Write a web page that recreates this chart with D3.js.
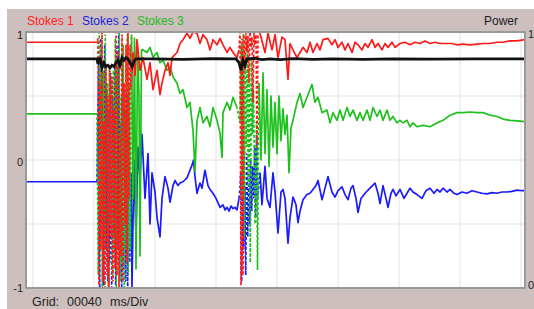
<!DOCTYPE html>
<html>
<head>
<meta charset="utf-8">
<title>Stokes</title>
<script src="https://cdn.jsdelivr.net/npm/d3@7/dist/d3.min.js"></script>
<style>
body { margin: 0; background: #fff; }
svg { display: block; font-family: "Liberation Sans", Arial, sans-serif; }
</style>
</head>
<body>
<script>
  // sample index -> ms (40 ms per grid division, 61 samples per division)
  var sampleMs = 40 / 61;
  var gridMs = 40;

  var legendNames = ["Stokes 1", "Stokes 2", "Stokes 3"];
  var leftTicks = [1, 0, -1];
  var rightTicks = [1, 0];

  // sample ranges where the traces break up into noise
  var bursts = [[64, 97.5], [206.5, 226]];

  // [sample, value]
  var stokes1 = [[-7,0.92],[64,0.92],
    [65,0.95],[66,-0.98],[67,0.6],[68,-0.7],[69,1.0],[70,-0.95],[71,0.3],[72,-1.0],[73,0.75],[74,-0.9],
    [75,0.5],[76,-1.0],[77,0.7],[78,-0.6],[79,0.65],[80,-0.95],[81,0.4],[82,-0.85],[83,1.0],[84,-0.9],
    [85,0.85],[86,-1.0],[87,0.2],[88,-0.75],[89,0.98],[90,-0.95],[91,0.6],[92,-0.5],[93,0.9],[94,-0.8],
    [95,1.0],[96,-0.3],
    [97,0.9],[98,0.55],[100,0.84],[102,0.66],[104,0.94],[107,0.7],[110,0.8],[114,0.63],[117,0.76],[120,0.55],
    [124,0.7],[127,0.51],[129,0.6],[132,0.7],[135,0.76],[137,0.66],[139,0.8],[144,0.84],[147,0.91],[150,0.94],
    [154,0.99],[157,0.95],[160,1.0],[164,0.99],[167,0.91],[170,0.98],[174,0.94],[177,0.86],[180,0.94],[184,0.9],
    [187,0.95],[190,0.9],[194,0.84],[197,0.88],[200,0.84],[204,0.8],[206,0.86],
    [207,1.0],[208,-0.98],[209,0.95],[210,-0.9],[211,0.98],[212,0.7],[213,0.99],[214,0.85],[215,0.97],[216,0.6],
    [217,1.0],[218,0.88],[219,0.96],[220,0.45],[221,1.0],[222,0.9],[223,0.98],[224,0.1],[225,0.97],
    [227,0.99],[232,0.84],[235,0.99],[239,0.86],[242,0.98],[245,0.8],[249,0.96],[252,0.94],[255,0.63],[257,0.91],
    [260,0.86],[264,0.8],[267,0.84],[270,0.88],[274,0.84],[277,0.92],[280,0.84],[284,0.91],[287,0.86],[290,0.94],
    [295,0.95],[299,0.9],[302,0.94],[305,0.88],[309,0.92],[312,0.86],[315,0.91],[319,0.84],[322,0.92],[325,0.9],
    [329,0.86],[332,0.91],[335,0.88],[339,0.94],[342,0.88],[345,0.91],[349,0.86],[352,0.91],[355,0.88],[359,0.92],
    [362,0.88],[367,0.91],[372,0.92],[377,0.9],[382,0.92],[387,0.91],[392,0.93],[397,0.91],[402,0.92],[407,0.91],
    [414,0.91],[419,0.91],[424,0.9],[430,0.905],[437,0.9],[444,0.905],[450,0.91],[457,0.91],[464,0.92],[470,0.92],
    [477,0.93],[484,0.93],[492,0.94]];

  var stokes2 = [[-7,-0.17],[64,-0.17],
    [65.7,0.8],[66.7,-1.0],[67.7,0.95],[68.7,-0.5],[69.7,0.6],[70.7,-0.98],[71.7,0.9],[72.7,-0.7],[73.7,0.55],
    [74.7,-0.95],[75.7,0.4],[76.7,-0.8],[77.7,0.68],[78.7,-1.0],[79.7,0.5],[80.7,-0.6],[81.7,0.75],[82.7,-0.98],
    [83.7,0.9],[84.7,-0.7],[85.7,1.0],[86.7,-0.9],[87.7,0.3],[88.7,-1.0],[89.7,0.8],[90.7,-0.85],[91.7,0.1],
    [92.7,-0.95],[93.7,0.5],[94.7,-0.99],[95.7,0.2],[96.7,-0.8],
    [98,-0.1],[99,-0.99],[101,0.0],[103,-0.6],[105,0.1],[107,-0.15],[109,0.2],[112,-0.3],[115,0.05],[117,-0.5],
    [119,-0.1],[122,-0.25],[124,-0.45],[127,-0.6],[129,-0.3],[132,-0.13],[135,-0.22],[137,-0.33],[140,-0.2],
    [142,-0.16],[145,-0.2],[147,-0.18],[150,-0.17],[154,-0.14],[157,-0.08],[159,-0.04],[160.5,0.0],[162,-0.13],
    [164,-0.26],[167,-0.18],[169,-0.22],[172,-0.08],[175,-0.2],[177,-0.23],[180,-0.26],[183,-0.3],[187,-0.37],
    [190,-0.35],[192,-0.39],[194,-0.37],[196,-0.4],[198,-0.36],[200,-0.38],[202,-0.37],[204,-0.39],[206,-0.3],
    [207,-0.22],[207.7,-0.1],[208.7,-0.95],[209.7,0.1],[210.7,-0.7],[211.7,-0.2],[212.7,-0.9],[213.7,0.05],
    [214.7,-0.6],[215.7,-0.1],[216.7,-0.5],[217.7,0.0],[218.7,-0.4],[219.7,-0.05],[220.7,-0.3],[221.7,0.1],
    [222.7,-0.45],[223.7,0.2],[224.7,-0.3],
    [227,-0.1],[229,-0.35],[232,-0.05],[234,-0.3],[237,-0.37],[240,-0.1],[242,-0.25],[245,-0.57],[248,-0.25],
    [250,-0.23],[252,-0.3],[255,-0.65],[257,-0.45],[260,-0.29],[263,-0.35],[265,-0.49],[267,-0.4],[270,-0.31],
    [274,-0.27],[277,-0.26],[280,-0.23],[283,-0.2],[285,-0.16],[289,-0.31],[292,-0.22],[295,-0.13],[299,-0.25],
    [302,-0.29],[305,-0.24],[309,-0.21],[312,-0.27],[315,-0.31],[318,-0.22],[320,-0.2],[323,-0.3],[325,-0.41],
    [328,-0.3],[332,-0.26],[337,-0.22],[342,-0.18],[345,-0.26],[347,-0.34],[350,-0.2],[353,-0.3],[355,-0.37],
    [358,-0.26],[360,-0.23],[363,-0.28],[367,-0.23],[371,-0.3],[374,-0.26],[377,-0.22],[380,-0.25],[384,-0.27],
    [389,-0.3],[393,-0.24],[397,-0.22],[401,-0.26],[404,-0.23],[407,-0.25],[410,-0.22],[414,-0.25],[417,-0.23],
    [421,-0.26],[424,-0.27],[429,-0.25],[434,-0.26],[439,-0.24],[444,-0.25],[449,-0.26],[454,-0.265],[459,-0.255],
    [464,-0.26],[469,-0.25],[474,-0.25],[479,-0.245],[484,-0.235],[489,-0.24],[492,-0.24]];

  var stokes3 = [[-7,0.36],[64,0.36],
    [65.3,-0.9],[66.3,1.0],[67.3,-0.4],[68.3,0.9],[69.3,-1.0],[70.3,0.7],[71.3,-0.6],[72.3,0.98],[73.3,-0.8],
    [74.3,0.6],[75.3,-1.0],[76.3,0.72],[77.3,-0.5],[78.3,0.55],[79.3,-0.9],[80.3,0.7],[81.3,-0.7],[82.3,0.95],
    [83.3,-1.0],[84.3,0.8],[85.3,-0.6],[86.3,1.0],[87.3,-0.95],[88.3,0.5],[89.3,-0.8],[90.3,0.9],[91.3,-1.0],
    [92.3,0.4],[93.3,-0.7],[94.3,0.98],[95.3,-0.9],[96.3,0.6],
    [97.3,-0.7],[98.5,0.98],[100,-0.3],[101.5,0.95],[103,-0.85],[104.5,0.88],[106,0.5],[107,-0.75],[108.5,0.86],
    [110,0.86],[114,0.84],[117,0.88],[120,0.8],[124,0.84],[127,0.76],[130,0.78],[134,0.7],[137,0.73],[140,0.65],
    [144,0.6],[147,0.52],[150,0.55],[154,0.41],[157,0.45],[160,0.23],[162,-0.09],[164,0.31],[167,0.41],[170,0.29],
    [174,0.34],[177,0.26],[180,0.41],[184,0.31],[187,0.21],[189,0.02],[190,0.37],[194,0.45],[197,0.39],[200,0.49],
    [204,0.41],[207,0.29],
    [208.3,0.9],[209.3,-0.3],[210.3,0.99],[211.3,-0.6],[212.3,0.7],[213.3,0.1],[214.3,0.95],[215.3,-0.2],
    [216.3,0.6],[217.3,-0.8],[218.3,0.8],[219.3,0.2],[220.5,0.55],[222,-0.5],[223.5,0.3],[224.5,-0.86],
    [226,0.6],[228,0.0],[230,0.68],[232,0.05],[234,0.55],[236,-0.05],[238,0.5],[240,0.1],[242,0.45],[244,0.05],
    [246,0.5],[248,0.15],[250,0.4],[252,0.2],[254,0.35],[256,-0.1],[258,0.25],
    [260,0.31],[264,0.45],[267,0.52],[270,0.41],[274,0.49],[279,0.59],[282,0.45],[285,0.49],[289,0.37],[294,0.39],
    [297,0.29],[300,0.37],[304,0.31],[307,0.39],[310,0.31],[314,0.41],[317,0.34],[320,0.39],[324,0.31],[327,0.37],
    [330,0.31],[334,0.39],[337,0.31],[340,0.41],[344,0.34],[347,0.39],[350,0.31],[354,0.39],[357,0.31],[360,0.34],
    [364,0.29],[367,0.31],[370,0.29],[374,0.31],[377,0.26],[380,0.29],[384,0.26],[390,0.27],[397,0.26],[404,0.29],
    [410,0.31],[417,0.35],[424,0.37],[430,0.37],[437,0.375],[444,0.37],[450,0.37],[457,0.35],[464,0.34],[470,0.32],
    [477,0.31],[484,0.305],[492,0.3]];

  // power on the right-hand 0..1 axis
  var power = [[-7,0.895],[64,0.895],
    [65,0.875],[67,0.9],[69,0.86],[71,0.88],[73,0.865],[75,0.87],[77,0.86],[79,0.87],[81,0.865],[83,0.88],
    [85,0.89],[87,0.87],[89,0.9],[91,0.89],[93,0.9],[95,0.895],[97,0.88],[99,0.865],[101,0.885],[103,0.895],
    [120,0.895],[150,0.893],[180,0.896],[203,0.895],[206,0.88],[208,0.85],[210,0.89],[212,0.87],[214,0.895],
    [222,0.897],[229,0.892],[237,0.895],[247,0.892],[260,0.896],[280,0.893],[300,0.895],[330,0.893],[360,0.895],
    [400,0.894],[440,0.895],[492,0.895]];

  var width = 534, height = 309;
  var plotLeft = 26, plotRight = 525, plotTop = 32, plotBottom = 288;

  var svg = d3.select("body").append("svg").attr("width", width).attr("height", height);

  svg.append("rect").attr("x", 7).attr("y", 9).attr("width", width - 7).attr("height", height - 9)
    .attr("fill", "#cdbfbe");

  var x = d3.scaleLinear().domain([-7 * sampleMs, 492 * sampleMs]).range([plotLeft, plotRight]);
  var y = d3.scaleLinear().domain([-1, 1]).range([plotBottom, plotTop]);
  var yR = d3.scaleLinear().domain([0, 1]).range([plotBottom, plotTop]);

  svg.append("rect").attr("x", plotLeft).attr("y", plotTop)
    .attr("width", plotRight - plotLeft).attr("height", plotBottom - plotTop)
    .attr("fill", "#fff");

  // grid
  svg.append("g").selectAll("line").data(d3.range(0, 321, gridMs)).enter().append("line")
    .attr("x1", function(d) { return x(d); }).attr("x2", function(d) { return x(d); })
    .attr("y1", plotTop).attr("y2", plotBottom)
    .attr("stroke", "#e2e2e2").attr("stroke-width", 1);
  svg.append("g").selectAll("line").data([0.5, 0, -0.5]).enter().append("line")
    .attr("x1", plotLeft).attr("x2", plotRight)
    .attr("y1", function(d) { return y(d); }).attr("y2", function(d) { return y(d); })
    .attr("stroke", "#e2e2e2").attr("stroke-width", 1);

  svg.append("clipPath").attr("id", "plot").append("rect")
    .attr("x", plotLeft).attr("y", plotTop)
    .attr("width", plotRight - plotLeft).attr("height", plotBottom - plotTop);

  var line = d3.line().x(function(d) { return x(d[0] * sampleMs); }).y(function(d) { return y(d[1]); });
  var lineR = d3.line().x(function(d) { return x(d[0] * sampleMs); }).y(function(d) { return yR(d[1]); });

  function inBurst(s) {
    return bursts.some(function(b) { return s > b[0] && s < b[1]; });
  }
  // split a series into calm pieces and burst pieces (pieces share their end points)
  function pieces(data) {
    var out = [], cur = null, curBurst = null;
    data.forEach(function(d, i) {
      var b = inBurst(d[0]);
      if (cur === null) { cur = [d]; curBurst = b; return; }
      if (b !== curBurst) {
        if (b) { out.push({ burst: false, pts: cur }); cur = [data[i - 1], d]; }
        else { cur.push(d); out.push({ burst: true, pts: cur }); cur = [d]; }
        curBurst = b;
      } else cur.push(d);
    });
    out.push({ burst: curBurst, pts: cur });
    return out;
  }

  var series = [
    { data: stokes2, color: "#1a1aff", dash: "0" },
    { data: stokes3, color: "#1ec01e", dash: "1.7" },
    { data: stokes1, color: "#ff1a1a", dash: "3.4" }
  ];

  var traces = svg.append("g").attr("clip-path", "url(#plot)");
  var calm = traces.append("g"), noisy = traces.append("g");
  series.forEach(function(s) {
    pieces(s.data).forEach(function(p) {
      if (p.burst) {
        noisy.append("path").attr("d", line(p.pts)).attr("fill", "none").attr("stroke", s.color)
          .attr("stroke-width", 1.7).attr("stroke-dasharray", "3 2").attr("stroke-dashoffset", s.dash);
      } else {
        calm.append("path").attr("d", line(p.pts)).attr("fill", "none").attr("stroke", s.color)
          .attr("stroke-width", 1.7).attr("stroke-linejoin", "round");
      }
    });
  });
  traces.append("path").attr("d", lineR(power)).attr("fill", "none").attr("stroke", "#111")
    .attr("stroke-width", 2.8);

  // frame
  svg.append("rect").attr("x", plotLeft).attr("y", plotTop)
    .attr("width", plotRight - plotLeft).attr("height", plotBottom - plotTop)
    .attr("fill", "none").attr("stroke", "#9a9a9a").attr("stroke-width", 2);

  // axis labels
  svg.append("g").selectAll("text").data(leftTicks).enter().append("text")
    .attr("x", 23).attr("y", function(d) { return y(d) + (d === 1 ? 7 : d === 0 ? 6 : 4); })
    .attr("text-anchor", "end").attr("font-size", 11).attr("fill", "#222")
    .text(function(d) { return d; });
  svg.append("g").selectAll("text").data(rightTicks).enter().append("text")
    .attr("x", 528).attr("y", function(d) { return yR(d) + (d === 1 ? 6 : 1); })
    .attr("font-size", 11).attr("fill", "#222")
    .text(function(d) { return d; });

  // legend
  var legendColors = ["#f22", "#22d", "#2b2"];
  var legendX = [27, 82, 137];
  svg.append("g").selectAll("text").data(legendNames).enter().append("text")
    .attr("x", function(d, i) { return legendX[i]; }).attr("y", 25)
    .attr("font-size", 12).attr("fill", function(d, i) { return legendColors[i]; })
    .text(function(d) { return d; });
  svg.append("text").attr("x", 518).attr("y", 25).attr("text-anchor", "end")
    .attr("font-size", 12).attr("fill", "#222").text("Power");

  var grid = svg.append("text").attr("y", 306).attr("font-size", 12.5).attr("fill", "#222");
  grid.append("tspan").attr("x", 32).text("Grid:");
  grid.append("tspan").attr("x", 67).text("00040");
  grid.append("tspan").attr("x", 110).text("ms/Div");
</script>
</body>
</html>
